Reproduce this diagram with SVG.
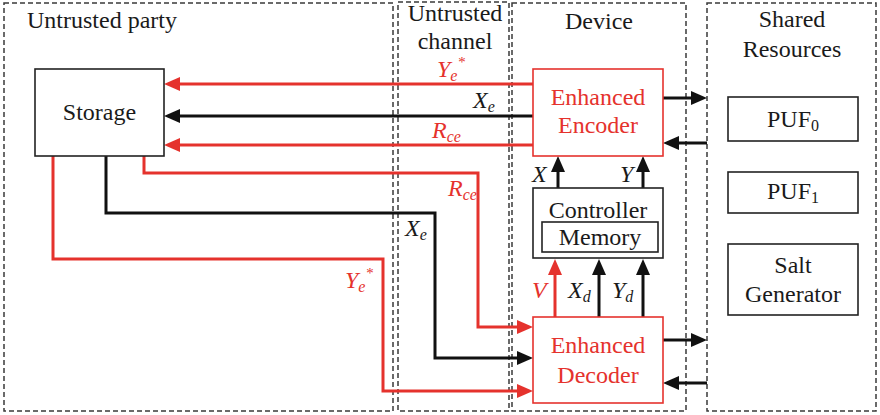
<svg xmlns="http://www.w3.org/2000/svg" width="880" height="415" viewBox="0 0 880 415">
<style>
text{font-family:"Liberation Serif","DejaVu Serif",serif;font-size:24px;fill:#1a1a1a}
.red{fill:#e5322d}
.it{font-style:italic}
.c{text-anchor:middle}
.region{fill:none;stroke:#3a3a3a;stroke-width:1.5;stroke-dasharray:5,3}
.box{fill:#fff;stroke:#222;stroke-width:1.6}
.rbox{fill:#fff;stroke:#e5322d;stroke-width:1.6}
.wk{fill:none;stroke:#111;stroke-width:3}
.wr{fill:none;stroke:#e5322d;stroke-width:3}
</style>
<defs>
<marker id="ak" markerUnits="userSpaceOnUse" markerWidth="16" markerHeight="14" refX="2" refY="7" orient="auto"><path d="M0,0 L16,7 L0,14 z" fill="#111"/></marker>
<marker id="ar" markerUnits="userSpaceOnUse" markerWidth="16" markerHeight="14" refX="2" refY="7" orient="auto"><path d="M0,0 L16,7 L0,14 z" fill="#e5322d"/></marker>
</defs>
<rect width="880" height="415" fill="#fff"/>

<g id="regions">
<rect class="region" x="4" y="3" width="389" height="408"/>
<rect class="region" x="398" y="2" width="111" height="409"/>
<rect class="region" x="512" y="3" width="174" height="408"/>
<rect class="region" x="707" y="3" width="169" height="408"/>
<text x="27" y="28">Untrusted party</text>
<text class="c" x="455" y="21">Untrusted</text>
<text class="c" x="455" y="49">channel</text>
<text class="c" x="599" y="29">Device</text>
<text class="c" x="792" y="27">Shared</text>
<text class="c" x="792" y="57">Resources</text>
</g>

<g id="connectors">
<path class="wr" d="M533,84 H178" marker-end="url(#ar)"/>
<path class="wk" d="M533,116 H178" marker-end="url(#ak)"/>
<path class="wr" d="M533,145 H178" marker-end="url(#ar)"/>
<path class="wr" d="M144,156 V173 H478 V327 H519" marker-end="url(#ar)"/>
<path class="wk" d="M106,156 V213 H435 V358 H519" marker-end="url(#ak)"/>
<path class="wr" d="M53,156 V259 H383 V391 H519" marker-end="url(#ar)"/>
<path class="wk" d="M558,188 V170" marker-end="url(#ak)"/>
<path class="wk" d="M643,188 V170" marker-end="url(#ak)"/>
<path class="wr" d="M555,317 V273" marker-end="url(#ar)"/>
<path class="wk" d="M599,317 V273" marker-end="url(#ak)"/>
<path class="wk" d="M643,317 V273" marker-end="url(#ak)"/>
<path class="wk" d="M663,98 H693" marker-end="url(#ak)"/>
<path class="wk" d="M707,143 H677" marker-end="url(#ak)"/>
<path class="wk" d="M663,340 H693" marker-end="url(#ak)"/>
<path class="wk" d="M707,383 H677" marker-end="url(#ak)"/>
<text class="red it" x="437" y="77">Y<tspan dy="4" font-size="16">e</tspan><tspan dy="-14" font-size="15">*</tspan></text>
<text class="it" x="473" y="108">X<tspan dy="4" font-size="16">e</tspan></text>
<text class="red it" x="432" y="138">R<tspan dy="4" font-size="16">ce</tspan></text>
<text class="red it" x="448" y="196">R<tspan dy="4" font-size="16">ce</tspan></text>
<text class="it" x="405" y="236">X<tspan dy="4" font-size="16">e</tspan></text>
<text class="red it" x="345" y="288">Y<tspan dy="4" font-size="16">e</tspan><tspan dy="-14" font-size="15">*</tspan></text>
<text class="it" x="532" y="182">X</text>
<text class="it" x="620" y="182">Y</text>
<text class="red it" x="532" y="298">V</text>
<text class="it" x="568" y="298">X<tspan dy="4" font-size="16">d</tspan></text>
<text class="it" x="612" y="298">Y<tspan dy="4" font-size="16">d</tspan></text>
</g>

<g id="storage">
<rect class="box" x="35" y="69" width="129" height="87"/>
<text class="c" x="99.5" y="120">Storage</text>
</g>

<g id="encoder">
<rect class="rbox" x="533" y="69" width="130" height="87"/>
<text class="c red" x="598" y="105">Enhanced</text>
<text class="c red" x="598" y="133">Encoder</text>
</g>

<g id="controller">
<rect class="box" x="533" y="188" width="130" height="70"/>
<text class="c" x="598" y="218">Controller</text>
</g>

<g id="memory">
<rect class="box" x="542" y="222" width="116" height="30"/>
<text class="c" x="600" y="245">Memory</text>
</g>

<g id="decoder">
<rect class="rbox" x="533" y="317" width="130" height="86"/>
<text class="c red" x="598" y="353">Enhanced</text>
<text class="c red" x="598" y="383">Decoder</text>
</g>

<g id="puf0">
<rect class="box" x="728" y="97" width="130" height="44"/>
<text class="c" x="793" y="127">PUF<tspan dy="4" font-size="16">0</tspan></text>
</g>

<g id="puf1">
<rect class="box" x="728" y="172" width="130" height="41"/>
<text class="c" x="793" y="199">PUF<tspan dy="4" font-size="16">1</tspan></text>
</g>

<g id="salt">
<rect class="box" x="728" y="244" width="130" height="71"/>
<text class="c" x="793" y="273">Salt</text>
<text class="c" x="793" y="302">Generator</text>
</g>
</svg>
